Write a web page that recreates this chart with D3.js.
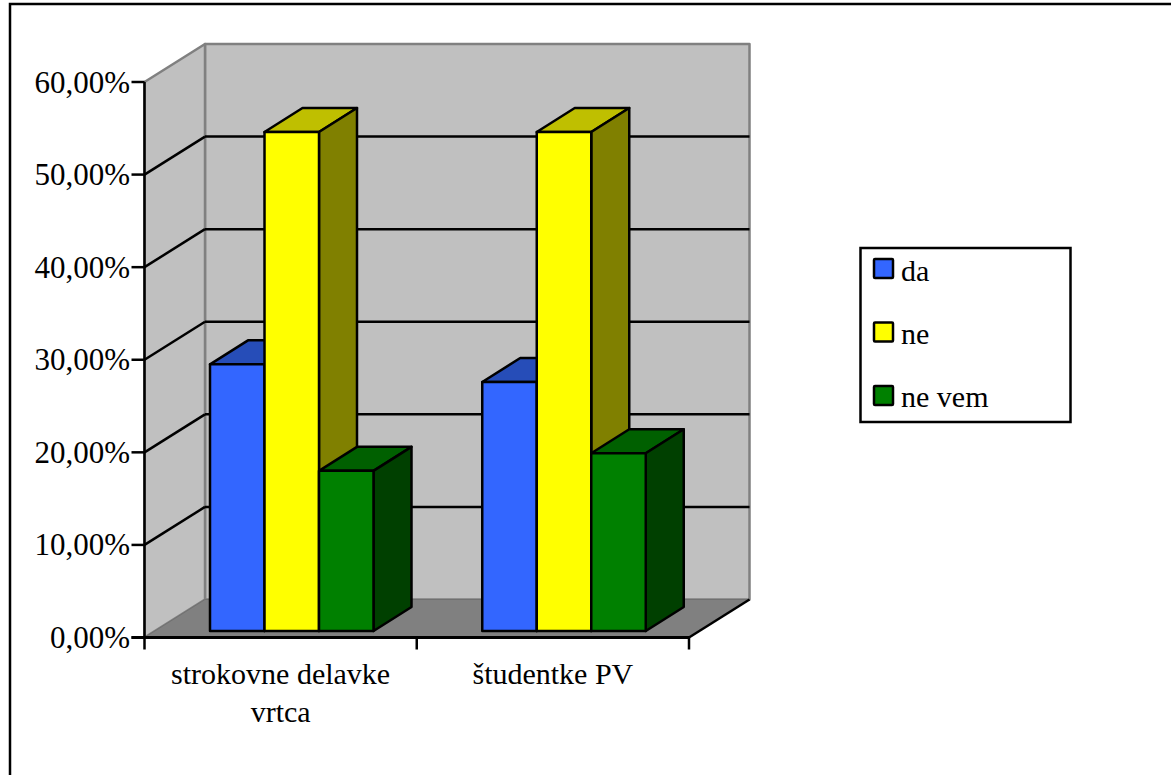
<!DOCTYPE html>
<html><head><meta charset="utf-8"><script src="https://cdn.jsdelivr.net/npm/d3@7"></script>
<style>html,body{margin:0;padding:0;background:#fff}svg{display:block}text{font-family:"Liberation Serif",serif;fill:#000}</style></head>
<body><svg id="c" width="1171" height="775"></svg>
<script>
const categories=[["strokovne delavke","vrtca"],["študentke PV"]];
const seriesNames=["da","ne","ne vem"];
const da=[28.8,26.9];
const ne=[53.9,53.9];
const neVem=[17.3,19.2];
const yTicks=[0,10,20,30,40,50,60];
const fill=["#3366ff","#ffff00","#008000"],top_=["#264db8","#bfbf00","#006000"],side=["#1a3380","#808000","#004000"];
const seriesValues=[da,ne,neVem];
const svg=d3.select("#c");
const y=d3.scaleLinear().domain([0,60]).range([637.5,82]);
const x=d3.scaleBand().domain(d3.range(categories.length)).range([144.5,689]);
const sx=d3.scaleBand().domain(d3.range(3)).range([65.5,229]);
const dx=60.5,dy=-38,bdx=38,bdy=-24,bby=-6.5;
const poly=(pts,f,s,w)=>svg.append("polygon").attr("points",pts.map(p=>p.join(",")).join(" ")).attr("fill",f).attr("stroke",s).attr("stroke-width",w).attr("stroke-linejoin","round");
const line=(a,b,s,w)=>svg.append("line").attr("x1",a[0]).attr("y1",a[1]).attr("x2",b[0]).attr("y2",b[1]).attr("stroke",s).attr("stroke-width",w);
svg.append("rect").attr("x",10).attr("y",4).attr("width",1200).attr("height",800).attr("fill","#fff").attr("stroke","#000").attr("stroke-width",2.5);
const L=144.5,R=689,T=y(60),B=y(0);
poly([[L+dx,T+dy],[R+dx,T+dy],[R+dx,B+dy],[L+dx,B+dy]],"#c0c0c0","#808080",2.5);
poly([[L,T],[L+dx,T+dy],[L+dx,B+dy],[L,B]],"#c0c0c0","#808080",2.5);
poly([[L,B],[L+dx,B+dy],[R+dx,B+dy],[R,B]],"#808080","#707070",1);
yTicks.filter(v=>v>0&&v<60).forEach(v=>{
  line([L,y(v)],[L+dx,y(v)+dy],"#000",2.5);
  line([L+dx,y(v)+dy],[R+dx,y(v)+dy],"#000",2.5);
});
line([L,B],[L,T],"#000",2.5);
line([R,B],[R+dx,B+dy],"#000",2.5);
line([L-13,B],[R,B],"#000",3);
x.domain().forEach(i=>line([x(i),B],[x(i),B+12],"#000",2.5));
line([R,B],[R,B+12],"#000",2.5);
yTicks.forEach(v=>{
  line([L-13,y(v)],[L,y(v)],"#000",2.5);
  svg.append("text").attr("x",130).attr("y",y(v)+10.5).attr("text-anchor","end").attr("font-size",31).text(v.toFixed(2).replace(".",",")+"%");
});
categories.forEach((c,i)=>{
  seriesValues.forEach((vals,s)=>{
    const x0=x(i)+sx(s),x1=x0+sx.bandwidth(),b=B+bby,t=y(vals[i])+bby;
    poly([[x0,t],[x0+bdx,t+bdy],[x1+bdx,t+bdy],[x1,t]],top_[s],"#000",2.5);
    poly([[x1,t],[x1+bdx,t+bdy],[x1+bdx,b+bdy],[x1,b]],side[s],"#000",2.5);
  });
  seriesValues.forEach((vals,s)=>{
    const x0=x(i)+sx(s),x1=x0+sx.bandwidth(),b=B+bby,t=y(vals[i])+bby;
    poly([[x0,t],[x1,t],[x1,b],[x0,b]],fill[s],"#000",2.5);
  });
});
categories.forEach((c,i)=>c.forEach((l,j)=>svg.append("text").attr("x",x(i)+x.bandwidth()/2).attr("y",684+j*38).attr("text-anchor","middle").attr("font-size",30).text(l)));
svg.append("rect").attr("x",860.5).attr("y",248).attr("width",210).attr("height",174).attr("fill","#fff").attr("stroke","#000").attr("stroke-width",2.5);
seriesNames.forEach((n,s)=>{
  svg.append("rect").attr("x",874).attr("y",259+s*63.5).attr("width",19).attr("height",19).attr("rx",1).attr("fill",fill[s]).attr("stroke","#000").attr("stroke-width",2.5);
  svg.append("text").attr("x",901).attr("y",280.5+s*63).attr("font-size",30).text(n);
});
</script></body></html>
